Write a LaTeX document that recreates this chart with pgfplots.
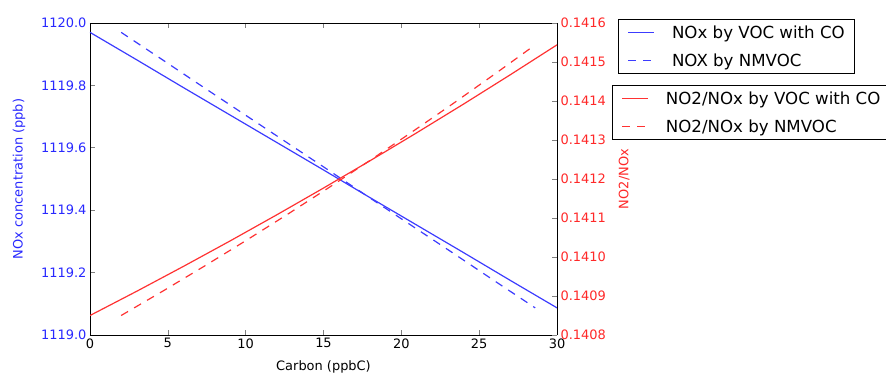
\documentclass[border=0pt]{standalone}
\usepackage{fontspec}
\setmainfont{DejaVu Sans}
\usepackage{pgfplots}
\pgfplotsset{compat=1.18}
\definecolor{cblue}{RGB}{60,60,255}
\definecolor{cred}{RGB}{255,50,50}
\definecolor{tblue}{RGB}{40,40,255}
\definecolor{tred}{RGB}{255,40,40}
\begin{document}
\begin{tikzpicture}
\pgfplotsset{
  every axis/.append style={
    scale only axis, width=467bp, height=312bp,
    at={(0,0)}, anchor=south west,
    xmin=0, xmax=30,
    tick align=inside,
    major tick length=5bp,
    tick style={line width=0.6bp},
    axis line style={line width=0.9bp},
    /pgf/number format/assume math mode=true,
    tick label style={font=\fontsize{13}{15}\selectfont},
    label style={font=\fontsize{13}{15}\selectfont},
    legend cell align=left,
    legend style={draw=black, line width=0.9bp, font=\fontsize{16.7}{19}\selectfont,
      inner xsep=9bp, inner ysep=4bp, row sep=10bp, column sep=16bp, cells={anchor=west},
      nodes={inner xsep=1bp}},
    legend image code/.code={\draw[#1, line width=1.4bp] (0bp,0bp) -- (26bp,0bp);},
  },
}
\begin{axis}[
  ymin=1119.0, ymax=1120.0,
  ytick={1119.0,1119.2,1119.4,1119.6,1119.8,1120.0},
  yticklabel style={color=tblue, /pgf/number format/.cd, fixed, fixed zerofill, precision=1, 1000 sep={}},
  xtick={0,5,10,15,20,25,30},
  axis y line*=left,
  xlabel={Carbon (ppbC)},
  ylabel={\color{tblue}NOx concentration (ppb)},
  xlabel style={yshift=-6bp},
  ylabel style={yshift=9bp},
  legend style={at={(1.131,1.013)}, anchor=north west},
]
\addplot[cblue, line width=1.2bp] coordinates {
(0,1119.970) (3,1119.882) (6,1119.793) (9,1119.705) (12,1119.617) (15,1119.529)
(18,1119.440) (21,1119.352) (24,1119.264) (27,1119.175) (30,1119.087)};
\addlegendentry{NOx by VOC with CO}
\addplot[cblue, line width=1.2bp, dash pattern=on 8bp off 7bp] coordinates {
(2.00,1119.970) (4.66,1119.882) (7.32,1119.793) (9.98,1119.705) (12.64,1119.617) (15.30,1119.529)
(17.96,1119.440) (20.62,1119.352) (23.28,1119.264) (25.94,1119.175) (28.60,1119.087)};
\addlegendentry{NOX by NMVOC}
\end{axis}
\begin{axis}[
  ymin=0.1408, ymax=0.1416,
  ytick={0.1408,0.1409,0.1410,0.1411,0.1412,0.1413,0.1414,0.1415,0.1416},
  yticklabel style={color=tred, /pgf/number format/.cd, fixed, fixed zerofill, precision=4},
  scaled y ticks=false,
  axis y line*=right,
  axis x line=none,
  ylabel={\color{tred}NO2/NOx},
  ylabel style={yshift=-6bp},
  legend style={at={(1.118,0.801)}, anchor=north west},
]
\addplot[cred, line width=1.2bp] coordinates {
(0,0.1408500) (3,0.1409121) (6,0.1409759) (9,0.1410412) (12,0.1411082) (15,0.1411768)
(18,0.1412470) (21,0.1413188) (24,0.1413922) (27,0.1414673) (30,0.1415440)};
\addlegendentry{NO2/NOx by VOC with CO}
\addplot[cred, line width=1.2bp, dash pattern=on 8bp off 7bp] coordinates {
(2.00,0.1408500) (4.66,0.1409121) (7.32,0.1409759) (9.98,0.1410412) (12.64,0.1411082) (15.30,0.1411768)
(17.96,0.1412470) (20.62,0.1413188) (23.28,0.1413922) (25.94,0.1414673) (28.60,0.1415440)};
\addlegendentry{NO2/NOx by NMVOC}
\end{axis}
\pgfresetboundingbox
\path[use as bounding box] (-90bp,-39bp) rectangle (796bp,335bp);
\end{tikzpicture}
\end{document}
